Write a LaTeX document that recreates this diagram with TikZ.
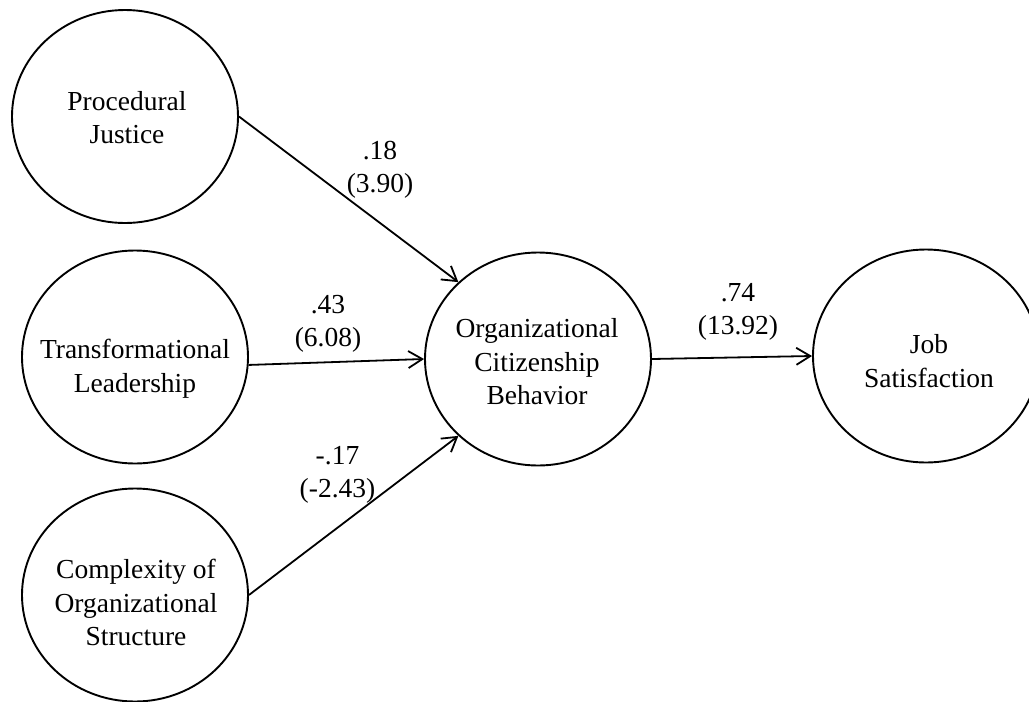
\documentclass[tikz,border=0pt]{standalone}
\usepackage{fontspec}
\setmainfont{Liberation Serif}
\usetikzlibrary{shapes.geometric,arrows.meta}
\begin{document}
\begin{tikzpicture}[x=1pt,y=-1pt,
  construct/.style={draw=black, ellipse, line width=1.9pt, minimum width=226pt, minimum height=213pt, inner sep=0pt},
  ctext/.style={align=center, font=\fontsize{27.5}{33.5}\selectfont, inner sep=0pt},
  coef/.style={align=center, font=\fontsize{27.5}{33}\selectfont, inner sep=0pt},
  conn/.style={-{Straight Barb[length=14pt,width=17pt]}, line width=1.8pt, draw=black}
]
\useasboundingbox (0,0) rectangle (1029,702);
% constructs
\node[construct] (pj)  at (125,116.5) {};
\node[construct] (tl)  at (135,357) {};
\node[construct] (cos) at (135,595) {};
\node[construct] (ocb) at (538,359) {};
\node[construct] (js)  at (926,356) {};
% construct texts
\node[ctext] (pjt)  at (127,117.5) {Procedural\\Justice};
\node[ctext] (tlt)  at (135,368.5) {Transformational\\Leadership};
\node[ctext] (cost) at (136,602.5) {Complexity of\\Organizational\\Structure};
\node[ctext] (ocbt) at (537,362) {Organizational\\Citizenship\\Behavior};
\node[ctext] (jst)  at (929,361) {Job\\Satisfaction};
% connectors
\draw[conn] (pj.east) -- (ocb.136);
\draw[conn] (tl.-4) -- (ocb.west);
\draw[conn] (cos.east) -- (ocb.224);
\draw[conn] (ocb.east) -- (js.west);
% coefficients
\node[coef] (c1) at (380,170) {.18\\(3.90)};
\node[coef] (c2) at (328,324) {.43\\(6.08)};
\node[coef] (c3) at (337.5,474.7) {-.17\\(-2.43)};
\node[coef] (c4) at (738,311.7) {.74\\(13.92)};
\end{tikzpicture}
\end{document}
